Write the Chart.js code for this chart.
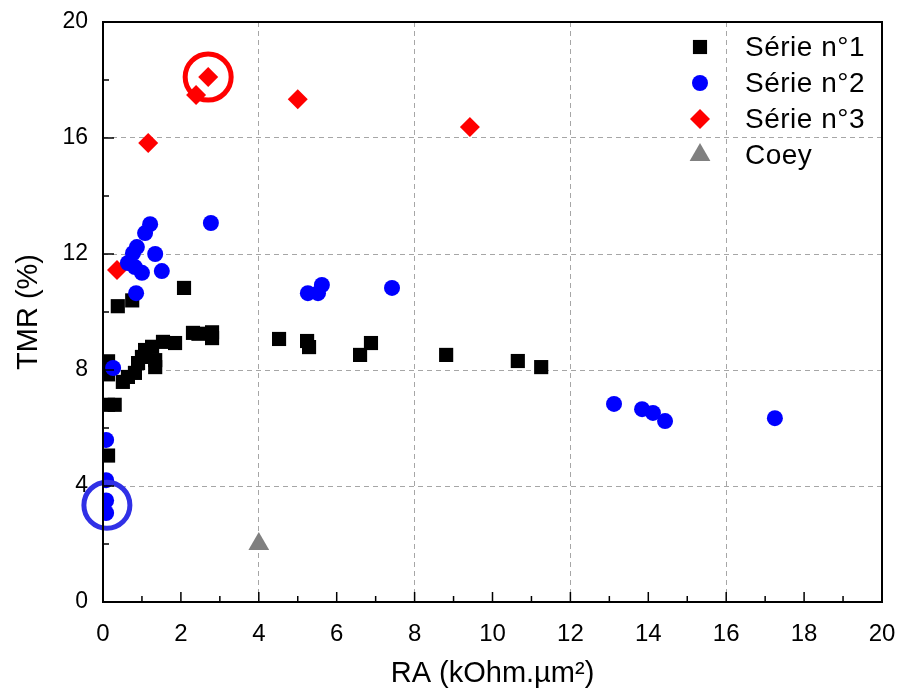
<!DOCTYPE html>
<html lang="fr">
<head>
<meta charset="UTF-8" />
<title>TMR vs RA</title>
<script src="https://cdn.jsdelivr.net/npm/chart.js"></script>
<style>
  html, body { margin: 0; padding: 0; background: #fff; }
  #wrap { width: 903px; height: 693px; }
</style>
</head>
<body>
<div id="wrap"><canvas id="chart" width="903" height="693"></canvas></div>
<script>
  // Série n°1 (black squares)
  const s1X = [0.13, 0.13, 0.13, 0.30, 0.13, 0.38, 0.75, 2.08, 0.51, 0.64, 0.82, 0.90, 1.00, 1.08, 1.26, 1.34, 1.34, 1.54, 1.85, 2.31, 2.45, 2.80, 2.80, 4.52, 5.24, 5.29, 6.60, 6.88, 8.81, 10.65, 11.25];
  const s1Y = [8.30, 7.85, 6.80, 6.80, 5.05, 10.20, 10.40, 10.83, 7.59, 7.76, 7.90, 8.24, 8.45, 8.69, 8.80, 8.34, 8.10, 8.97, 8.93, 9.28, 9.25, 9.30, 9.10, 9.07, 9.00, 8.79, 8.52, 8.93, 8.52, 8.31, 8.10];
  // Série n°2 (blue circles)
  const s2X = [0.08, 0.08, 0.08, 0.08, 0.26, 1.21, 1.08, 2.77, 0.87, 0.77, 1.34, 0.64, 0.82, 1.00, 1.51, 0.85, 5.26, 5.52, 5.62, 7.42, 13.12, 13.84, 14.12, 14.43, 17.25];
  const s2Y = [5.59, 4.20, 3.50, 3.07, 8.07, 13.03, 12.72, 13.07, 12.24, 12.03, 12.00, 11.69, 11.55, 11.35, 11.41, 10.65, 10.65, 10.65, 10.93, 10.83, 6.83, 6.65, 6.52, 6.24, 6.34];
  // Série n°3 (red diamonds)
  const s3X = [0.36, 1.16, 2.70, 2.39, 5.00, 9.42];
  const s3Y = [11.45, 15.83, 18.10, 17.48, 17.34, 16.38];
  // Coey (grey triangle)
  const coeyX = [4.0];
  const coeyY = [2.0];
  // highlighted points (circled)
  const markRedX = [2.70], markRedY = [18.10];
  const markBlueX = [0.10], markBlueY = [3.34];

  const seriesNames = ['Série n°1', 'Série n°2', 'Série n°3', 'Coey'];
  const xTicks = [0, 2, 4, 6, 8, 10, 12, 14, 16, 18, 20];
  const yTicks = [0, 4, 8, 12, 16, 20];
  const gridAt = [4, 8, 12, 16];

  const pts = (xs, ys) => xs.map((x, i) => ({ x: x, y: ys[i] }));

  const datasets = [
    { label: seriesNames[0], data: pts(s1X, s1Y), pointStyle: 'rect', pointRadius: 10,
      backgroundColor: '#000', borderColor: '#000', borderWidth: 0, order: 3, clip: 0 },
    { label: seriesNames[1], data: pts(s2X, s2Y), pointStyle: 'circle', pointRadius: 8,
      backgroundColor: '#0000ff', borderColor: '#0000ff', borderWidth: 0, order: 1, clip: 0 },
    { label: seriesNames[2], data: pts(s3X, s3Y), pointStyle: 'rectRot', pointRadius: 10,
      backgroundColor: '#ff0000', borderColor: '#ff0000', borderWidth: 0, order: 2, clip: 0 },
    { label: seriesNames[3], data: pts(coeyX, coeyY), pointStyle: 'triangle', pointRadius: 12,
      backgroundColor: '#808080', borderColor: '#808080', borderWidth: 0, order: 2, clip: 0 },
    { label: 'mark1', data: pts(markRedX, markRedY), pointStyle: 'circle', pointRadius: 23,
      backgroundColor: 'rgba(0,0,0,0)', borderColor: '#ff0000', borderWidth: 5, order: 0, clip: false },
    { label: 'mark2', data: pts(markBlueX, markBlueY), pointStyle: 'circle', pointRadius: 23,
      backgroundColor: 'rgba(0,0,0,0)', borderColor: '#3030e6', borderWidth: 5, order: 0, clip: false }
  ];

  const gridColor = (ctx) => gridAt.includes(ctx.tick.value) ? '#a6a6a6' : 'rgba(0,0,0,0)';

  // frame, inward ticks and legend drawn on top
  const framePlugin = {
    id: 'frame',
    afterDatasetsDraw(chart) {
      const { ctx, chartArea: a, scales } = chart;
      ctx.save();
      ctx.strokeStyle = '#000';
      ctx.lineWidth = 2;
      ctx.strokeRect(a.left, a.top, a.right - a.left, a.bottom - a.top);
      ctx.lineWidth = 1.5;
      ctx.beginPath();
      for (let v = 1; v < 20; v++) {
        const px = scales.x.getPixelForValue(v);
        const len = v % 2 === 0 ? 10 : 6;
        ctx.moveTo(px, a.bottom);
        ctx.lineTo(px, a.bottom - len);
      }
      for (let v = 2; v < 20; v += 2) {
        const py = scales.y.getPixelForValue(v);
        const len = v % 4 === 0 ? 11 : 6;
        ctx.moveTo(a.left, py);
        ctx.lineTo(a.left + len, py);
      }
      ctx.stroke();

      // legend
      const rows = [47, 83, 119, 155];
      ctx.font = '28px "Liberation Sans", Arial, sans-serif';
      ctx.textBaseline = 'middle';
      ctx.textAlign = 'left';
      if ('letterSpacing' in ctx) ctx.letterSpacing = '0.5px';
      for (let i = 0; i < 4; i++) {
        const ds = chart.data.datasets[i];
        ctx.fillStyle = ds.backgroundColor;
        Chart.helpers.drawPoint(ctx, {
          pointStyle: ds.pointStyle, radius: ds.pointRadius, borderWidth: 0, rotation: 0
        }, 700, rows[i]);
        ctx.fillStyle = '#000';
        ctx.fillText(ds.label, 745, rows[i] + 1);
      }
      ctx.restore();
    }
  };

  const noPad = (s) => { s.paddingLeft = 0; s.paddingRight = 0; s.paddingTop = 0; s.paddingBottom = 0; };

  new Chart(document.getElementById('chart'), {
    type: 'scatter',
    data: { datasets: datasets },
    options: {
      responsive: false,
      animation: false,
      layout: { autoPadding: false, padding: { top: 22, right: 21, left: 0, bottom: 0 } },
      plugins: { legend: { display: false }, tooltip: { enabled: false } },
      scales: {
        x: {
          type: 'linear', min: 0, max: 20,
          afterFit: (s) => { s.height = 91; noPad(s); },
          afterBuildTicks: (s) => { s.ticks = xTicks.map(v => ({ value: v })); },
          ticks: {
            autoSkip: false, maxRotation: 0, padding: 18, color: '#000',
            font: { family: '"Liberation Sans Narrow", "Liberation Sans", Arial, sans-serif', size: 24 }
          },
          grid: { color: gridColor, lineWidth: 1, drawTicks: false },
          border: { display: false, dash: [5, 4] },
          title: {
            display: true, text: 'RA (kOhm.µm²)', color: '#000',
            font: { family: '"Liberation Sans", Arial, sans-serif', size: 29 },
            padding: { top: 0, bottom: 2 }
          }
        },
        y: {
          type: 'linear', min: 0, max: 20,
          afterFit: (s) => { s.width = 103; noPad(s); },
          afterBuildTicks: (s) => { s.ticks = yTicks.map(v => ({ value: v })); },
          ticks: {
            autoSkip: false, padding: 15, color: '#000',
            font: { family: '"Liberation Sans", Arial, sans-serif', size: 23 }
          },
          grid: { color: gridColor, lineWidth: 1, drawTicks: false },
          border: { display: false, dash: [5, 4] },
          title: {
            display: true, text: 'TMR (%)', color: '#000',
            font: { family: '"Liberation Sans", Arial, sans-serif', size: 29 },
            padding: { top: 12, bottom: 0 }
          }
        }
      }
    },
    plugins: [framePlugin]
  });
</script>
</body>
</html>
